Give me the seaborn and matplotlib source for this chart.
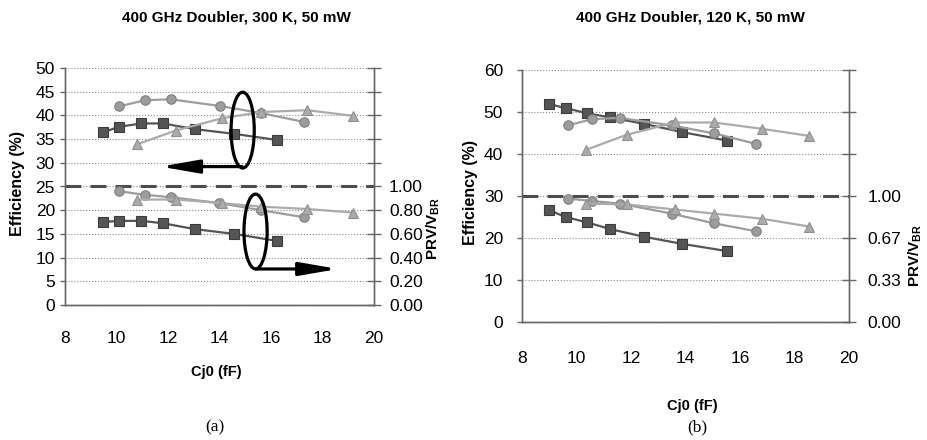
import numpy as np
import pandas as pd
import seaborn as sns
import matplotlib.pyplot as plt
from matplotlib.patches import Ellipse, FancyArrowPatch

# ---- panel (a): 300 K ----
cj0_sq_a = [9.46, 10.1, 10.97, 11.8, 13.05, 14.58, 16.25]
cj0_ci_a = [10.1, 11.1, 12.1, 14.0, 15.6, 17.3]
cj0_tr_a = [10.8, 12.3, 14.1, 15.6, 17.4, 19.2]
eff_sq_a = [36.4, 37.6, 38.3, 38.3, 37.1, 36.1, 34.8]
eff_ci_a = [41.9, 43.2, 43.4, 42.0, 40.5, 38.6]
eff_tr_a = [33.9, 36.8, 39.4, 40.7, 41.1, 39.9]
prv_sq_a = [0.70, 0.71, 0.71, 0.69, 0.64, 0.60, 0.54]
prv_ci_a = [0.96, 0.93, 0.91, 0.86, 0.80, 0.74]
prv_tr_a = [0.89, 0.89, 0.86, 0.83, 0.81, 0.78]

# ---- panel (b): 120 K ----
cj0_sq_b = [9.0, 9.61, 10.4, 11.24, 12.47, 13.88, 15.52]
cj0_ci_b = [9.67, 10.58, 11.58, 13.5, 15.05, 16.6]
cj0_tr_b = [10.35, 11.85, 13.6, 15.05, 16.8, 18.55]
eff_sq_b = [51.9, 50.9, 49.7, 48.7, 47.2, 45.2, 43.2]
eff_ci_b = [46.8, 48.3, 48.6, 46.8, 44.9, 42.4]
eff_tr_b = [41.0, 44.6, 47.5, 47.5, 46.0, 44.3]
prv_sq_b = [0.887, 0.833, 0.79, 0.737, 0.677, 0.62, 0.563]
prv_ci_b = [0.98, 0.96, 0.94, 0.86, 0.783, 0.72]
prv_tr_b = [0.94, 0.933, 0.893, 0.86, 0.82, 0.757]

titles = ['400 GHz Doubler, 300 K, 50 mW', '400 GHz Doubler, 120 K, 50 mW']
captions = ['(a)', '(b)']
eff_max = [50, 60]
eff_step = [5, 10]
prv_scale = [25, 30]   # efficiency value that lines up with PRV/VBR = 1
prv_ticklabels_a = ['0.00', '0.20', '0.40', '0.60', '0.80', '1.00']
prv_ticklabels_b = ['0.00', '0.33', '0.67', '1.00']

sns.set_style('white')
plt.rcParams['font.family'] = ['Liberation Sans', 'DejaVu Sans']
plt.rcParams['mathtext.fontset'] = 'custom'
plt.rcParams['mathtext.bf'] = 'Liberation Sans:bold'
plt.rcParams['mathtext.rm'] = 'Liberation Sans:bold'
plt.rcParams['text.color'] = 'black'
plt.rcParams['axes.labelcolor'] = 'black'

tick_size = 12.5
spine_col = '#666666'
styles = {
    'sq': dict(marker='s', color='#555555', mec='#3c3c3c', ms=6.5, lw=1.6),
    'ci': dict(marker='o', color='#9c9c9c', mec='#808080', ms=6.8, lw=1.6),
    'tr': dict(marker='^', color='#ababab', mec='#909090', ms=7, lw=1.6),
}

fig = plt.figure(figsize=(9.27, 4.40), dpi=100)
axs = [fig.add_axes([65/927, 1-305/440, 309/927, 237/440]),
       fig.add_axes([522/927, 1-322/440, 327/927, 252/440])]

panels = [
    (cj0_sq_a, cj0_ci_a, cj0_tr_a, eff_sq_a, eff_ci_a, eff_tr_a, prv_sq_a, prv_ci_a, prv_tr_a),
    (cj0_sq_b, cj0_ci_b, cj0_tr_b, eff_sq_b, eff_ci_b, eff_tr_b, prv_sq_b, prv_ci_b, prv_tr_b),
]

twins = []
for i, ax in enumerate(axs):
    xs, xc, xt, es, ec, et, ps, pc, pt = panels[i]
    ax2 = ax.twinx()
    twins.append(ax2)

    for key, x, e, p in [('sq', xs, es, ps), ('ci', xc, ec, pc), ('tr', xt, et, pt)]:
        st = styles[key]
        sns.lineplot(x=x, y=e, ax=ax, marker=st['marker'], color=st['color'],
                     markeredgecolor=st['mec'], markersize=st['ms'], linewidth=st['lw'],
                     markeredgewidth=0.8, zorder=3)
        sns.lineplot(x=x, y=p, ax=ax2, marker=st['marker'], color=st['color'],
                     markeredgecolor=st['mec'], markersize=st['ms'], linewidth=st['lw'],
                     markeredgewidth=0.8, zorder=3)

    top = eff_max[i]
    ax.set_xlim(8, 20)
    ax.set_ylim(0, top)
    ax.set_xticks(np.arange(8, 21, 2))
    ax.set_yticks(np.arange(0, top + 1, eff_step[i]))
    ax.yaxis.grid(True, linestyle=':', color='#8a8a8a', lw=0.8)
    ax.set_axisbelow(True)

    ax2.set_ylim(0, top / prv_scale[i])
    ax2.set_xlim(8, 20)
    if i == 0:
        rt = np.arange(0, 2.001, 0.2)
        ax2.set_yticks(rt)
        ax2.set_yticklabels(prv_ticklabels_a + [''] * (len(rt) - len(prv_ticklabels_a)))
    else:
        rt = np.arange(0, 7) / 3
        ax2.set_yticks(rt)
        ax2.set_yticklabels(prv_ticklabels_b + [''] * (len(rt) - len(prv_ticklabels_b)))

    # PRV/VBR = 1 reference line
    ax2.axhline(1.0, color='#4d4d4d', lw=2.2, dashes=(5.2, 3.0), zorder=2)

    for a in (ax, ax2):
        a.spines['top'].set_visible(False)
        for s in a.spines.values():
            s.set_color(spine_col)
            s.set_linewidth(1.0)

    ax.tick_params(axis='y', direction='out', length=3.6, width=1, color=spine_col,
                   labelcolor='black', pad=3.6 if i == 0 else 10, labelsize=tick_size)
    ax.tick_params(axis='x', direction='out', length=4, width=1, color=spine_col,
                   labelcolor='black', pad=14.5 if i == 0 else 17, labelsize=tick_size)
    ax2.tick_params(axis='y', direction='inout', length=10, width=1, color=spine_col,
                    labelcolor='black', pad=5.8 if i == 0 else 8.5, labelsize=tick_size)

    ax.set_xlabel('Cj0 (fF)', fontsize=10.5, fontweight='bold', va='center')
    ax.set_ylabel('Efficiency (%)', fontsize=11.5, fontweight='bold', va='center')
    ax2.set_ylabel(r'PRV/V$_{\mathbf{BR}}$', fontsize=11, fontweight='bold',
                   va='center', rotation=90)

axs[0].xaxis.set_label_coords(0.489, -0.283)
axs[0].yaxis.set_label_coords(-0.155, 0.513)
twins[0].yaxis.set_label_coords(1.191, 0.325)
axs[1].xaxis.set_label_coords(0.52, -0.333)
axs[1].yaxis.set_label_coords(-0.159, 0.512)
twins[1].yaxis.set_label_coords(1.203, 0.266)

# ellipses and arrows marking which axis each group belongs to (panel a)
axA, axA2 = axs[0], twins[0]
for cx, cy, h in [(14.9, 36.9, 16.0), (15.4, 15.5, 15.8)]:
    axA2.add_patch(Ellipse((cx, cy), 0.9, h, transform=axA.transData,
                           fill=False, ec='black', lw=2.3, zorder=6))
for x0, x1, y0 in [(14.87, 11.7, 29.2), (15.42, 18.6, 7.6)]:
    axA2.add_patch(FancyArrowPatch((x0, y0), (x1, y0), transform=axA.transData,
                                   arrowstyle='-|>,head_length=1.15,head_width=0.2',
                                   mutation_scale=20, color='black', lw=2.3,
                                   shrinkA=0, shrinkB=0, zorder=6))

fig.text(236/927, 1-17/440, titles[0], ha='center', va='center',
         fontsize=11, fontweight='bold')
fig.text(690/927, 1-18/440, titles[1], ha='center', va='center',
         fontsize=11, fontweight='bold')
fig.text(215/927, 1-427/440, captions[0], ha='center', va='center',
         fontsize=12.5, family=['Liberation Serif', 'DejaVu Serif'])
fig.text(697/927, 1-427/440, captions[1], ha='center', va='center',
         fontsize=12.5, family=['Liberation Serif', 'DejaVu Serif'])

plt.savefig('out.png', dpi=100)
